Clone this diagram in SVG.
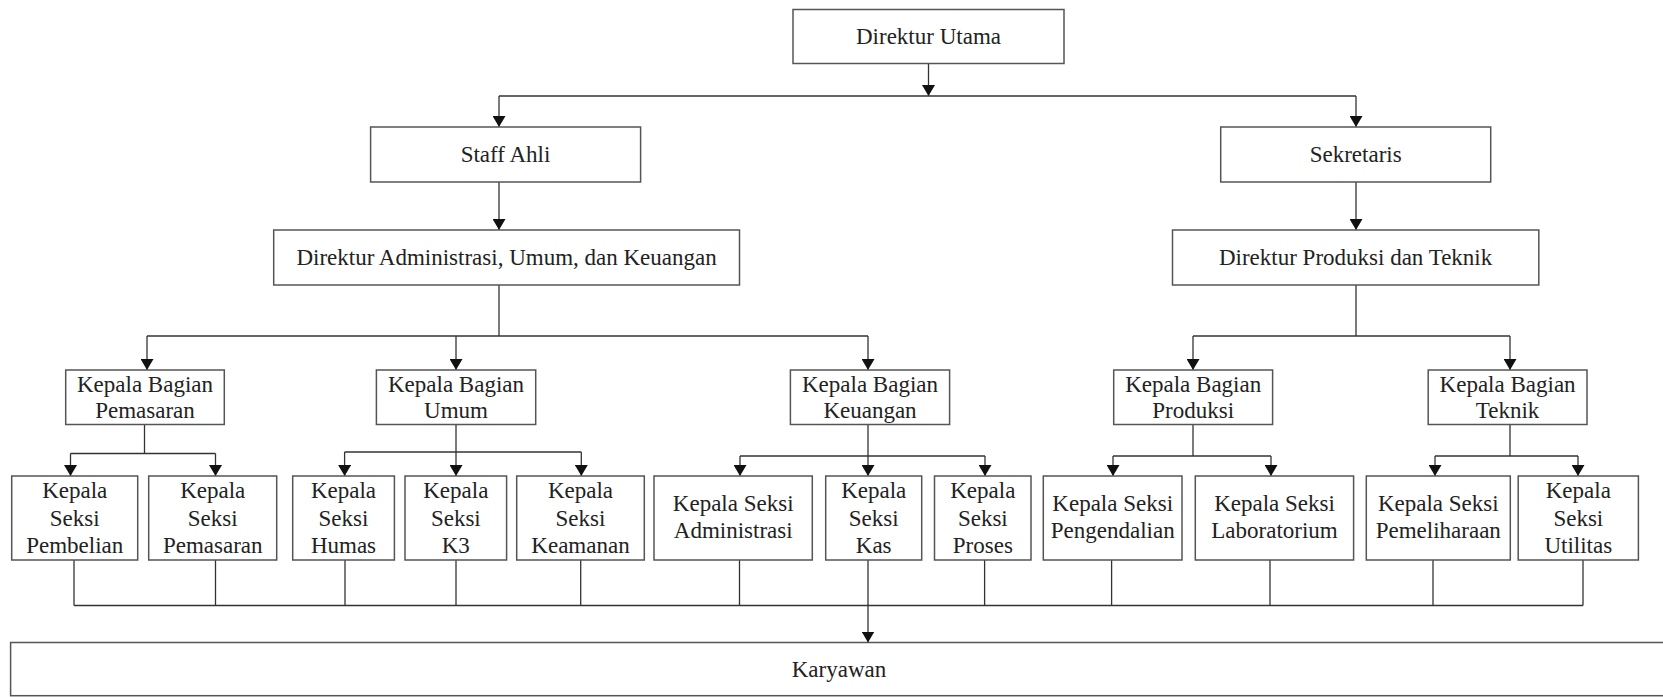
<svg xmlns="http://www.w3.org/2000/svg" width="1663" height="697" viewBox="0 0 1663 697">
<style>
.box{fill:#fff;stroke:#555;stroke-width:1.5}
.t{font-family:"Liberation Serif","Times New Roman",serif;font-size:23px;fill:#222;text-anchor:middle}
.ln{fill:none;stroke:#333;stroke-width:1.3}
.ar{fill:none;stroke:#333;stroke-width:1.3;marker-end:url(#ah)}
</style>
<defs>
<marker id="ah" viewBox="0 0 11 13" refX="11" refY="6.5" markerWidth="11" markerHeight="13" markerUnits="userSpaceOnUse" orient="auto">
<path d="M0,0 L11,6.5 L0,13 z" fill="#111"/>
</marker>
</defs>
<rect width="1663" height="697" fill="#fff"/>

<g id="connectors">
<line class="ar" x1="928.5" y1="63.5" x2="928.5" y2="96"/>
<polyline class="ln" points="499,96 1356,96"/>
<line class="ar" x1="499" y1="96" x2="499" y2="127"/>
<line class="ar" x1="1356" y1="96" x2="1356" y2="127"/>
<line class="ar" x1="499" y1="182" x2="499" y2="230"/>
<line class="ar" x1="1356" y1="182" x2="1356" y2="230"/>
<line class="ln" x1="499" y1="285" x2="499" y2="336"/>
<polyline class="ln" points="147,336 868,336"/>
<line class="ar" x1="147" y1="336" x2="147" y2="370"/>
<line class="ar" x1="456" y1="336" x2="456" y2="370"/>
<line class="ar" x1="868" y1="336" x2="868" y2="370"/>
<line class="ln" x1="1356" y1="285" x2="1356" y2="336"/>
<polyline class="ln" points="1193,336 1510,336"/>
<line class="ar" x1="1193" y1="336" x2="1193" y2="370"/>
<line class="ar" x1="1510" y1="336" x2="1510" y2="370"/>

<line class="ln" x1="144.5" y1="424.5" x2="144.5" y2="453.5"/>
<polyline class="ln" points="70.5,453.5 215.5,453.5"/>
<line class="ar" x1="70.5" y1="453.5" x2="70.5" y2="476"/>
<line class="ar" x1="215.5" y1="453.5" x2="215.5" y2="476"/>

<line class="ln" x1="456" y1="424.5" x2="456" y2="452"/>
<polyline class="ln" points="344.6,452 581.3,452"/>
<line class="ar" x1="344.6" y1="452" x2="344.6" y2="476"/>
<line class="ar" x1="456" y1="452" x2="456" y2="476"/>
<line class="ar" x1="581.3" y1="452" x2="581.3" y2="476"/>

<line class="ln" x1="868" y1="424.5" x2="868" y2="456"/>
<polyline class="ln" points="740,456 985,456"/>
<line class="ar" x1="740" y1="456" x2="740" y2="476"/>
<line class="ar" x1="868" y1="456" x2="868" y2="476"/>
<line class="ar" x1="985" y1="456" x2="985" y2="476"/>

<line class="ln" x1="1193" y1="424.5" x2="1193" y2="456"/>
<polyline class="ln" points="1113,456 1271,456"/>
<line class="ar" x1="1113" y1="456" x2="1113" y2="476"/>
<line class="ar" x1="1271" y1="456" x2="1271" y2="476"/>

<line class="ln" x1="1510" y1="424.5" x2="1510" y2="456"/>
<polyline class="ln" points="1435,456 1578,456"/>
<line class="ar" x1="1435" y1="456" x2="1435" y2="476"/>
<line class="ar" x1="1578" y1="456" x2="1578" y2="476"/>

<line class="ln" x1="74" y1="560" x2="74" y2="605.5"/>
<line class="ln" x1="215.5" y1="560" x2="215.5" y2="605.5"/>
<line class="ln" x1="345" y1="560" x2="345" y2="605.5"/>
<line class="ln" x1="456" y1="560" x2="456" y2="605.5"/>
<line class="ln" x1="580.7" y1="560" x2="580.7" y2="605.5"/>
<line class="ln" x1="739.5" y1="560" x2="739.5" y2="605.5"/>
<line class="ar" x1="868" y1="560" x2="868" y2="642.5"/>
<line class="ln" x1="984.6" y1="560" x2="984.6" y2="605.5"/>
<line class="ln" x1="1111.6" y1="560" x2="1111.6" y2="605.5"/>
<line class="ln" x1="1270" y1="560" x2="1270" y2="605.5"/>
<line class="ln" x1="1433" y1="560" x2="1433" y2="605.5"/>
<line class="ln" x1="1583" y1="560" x2="1583" y2="605.5"/>
<polyline class="ln" points="74,605.5 1583,605.5"/>
</g>

<g id="direktur-utama"><rect class="box" x="793" y="9.5" width="271" height="54"/><text class="t" x="928.5" y="44">Direktur Utama</text></g>
<g id="staff-ahli"><rect class="box" x="370.6" y="127" width="270" height="55"/><text class="t" x="505.5" y="162">Staff Ahli</text></g>
<g id="sekretaris"><rect class="box" x="1220.7" y="127" width="270" height="55"/><text class="t" x="1355.7" y="162">Sekretaris</text></g>
<g id="direktur-auk"><rect class="box" x="273.7" y="230" width="465.8" height="55"/><text class="t" x="506.6" y="265">Direktur Administrasi, Umum, dan Keuangan</text></g>
<g id="direktur-pt"><rect class="box" x="1172.5" y="230" width="366.3" height="55"/><text class="t" x="1355.6" y="265">Direktur Produksi dan Teknik</text></g>

<g id="kb-pemasaran"><rect class="box" x="65.7" y="370" width="158.6" height="54.5"/><text class="t" x="145" y="391.7">Kepala Bagian</text><text class="t" x="145" y="418.3">Pemasaran</text></g>
<g id="kb-umum"><rect class="box" x="376.4" y="370" width="159.3" height="54.5"/><text class="t" x="456" y="391.7">Kepala Bagian</text><text class="t" x="456" y="418.3">Umum</text></g>
<g id="kb-keuangan"><rect class="box" x="790.4" y="370" width="159.2" height="54.5"/><text class="t" x="870" y="391.7">Kepala Bagian</text><text class="t" x="870" y="418.3">Keuangan</text></g>
<g id="kb-produksi"><rect class="box" x="1113.7" y="370" width="158.9" height="54.5"/><text class="t" x="1193.2" y="391.7">Kepala Bagian</text><text class="t" x="1193.2" y="418.3">Produksi</text></g>
<g id="kb-teknik"><rect class="box" x="1428.2" y="370" width="158.8" height="54.5"/><text class="t" x="1507.6" y="391.7">Kepala Bagian</text><text class="t" x="1507.6" y="418.3">Teknik</text></g>

<g id="ks-pembelian"><rect class="box" x="11.7" y="476" width="126" height="84"/><text class="t" x="74.7" y="498.3">Kepala</text><text class="t" x="74.7" y="525.7">Seksi</text><text class="t" x="74.7" y="553.3">Pembelian</text></g>
<g id="ks-pemasaran"><rect class="box" x="148.7" y="476" width="128" height="84"/><text class="t" x="212.7" y="498.3">Kepala</text><text class="t" x="212.7" y="525.7">Seksi</text><text class="t" x="212.7" y="553.3">Pemasaran</text></g>
<g id="ks-humas"><rect class="box" x="292.7" y="476" width="101.7" height="84"/><text class="t" x="343.5" y="498.3">Kepala</text><text class="t" x="343.5" y="525.7">Seksi</text><text class="t" x="343.5" y="553.3">Humas</text></g>
<g id="ks-k3"><rect class="box" x="405" y="476" width="101.6" height="84"/><text class="t" x="455.8" y="498.3">Kepala</text><text class="t" x="455.8" y="525.7">Seksi</text><text class="t" x="455.8" y="553.3">K3</text></g>
<g id="ks-keamanan"><rect class="box" x="516.7" y="476" width="127.6" height="84"/><text class="t" x="580.5" y="498.3">Kepala</text><text class="t" x="580.5" y="525.7">Seksi</text><text class="t" x="580.5" y="553.3">Keamanan</text></g>
<g id="ks-administrasi"><rect class="box" x="654" y="476" width="158.3" height="84"/><text class="t" x="733.2" y="511">Kepala Seksi</text><text class="t" x="733.2" y="538.3">Administrasi</text></g>
<g id="ks-kas"><rect class="box" x="825.7" y="476" width="96" height="84"/><text class="t" x="873.7" y="498.3">Kepala</text><text class="t" x="873.7" y="525.7">Seksi</text><text class="t" x="873.7" y="553.3">Kas</text></g>
<g id="ks-proses"><rect class="box" x="934.5" y="476" width="96.5" height="84"/><text class="t" x="982.8" y="498.3">Kepala</text><text class="t" x="982.8" y="525.7">Seksi</text><text class="t" x="982.8" y="553.3">Proses</text></g>
<g id="ks-pengendalian"><rect class="box" x="1043.3" y="476" width="138.7" height="84"/><text class="t" x="1112.7" y="511">Kepala Seksi</text><text class="t" x="1112.7" y="538.3">Pengendalian</text></g>
<g id="ks-laboratorium"><rect class="box" x="1195.3" y="476" width="158.3" height="84"/><text class="t" x="1274.5" y="511">Kepala Seksi</text><text class="t" x="1274.5" y="538.3">Laboratorium</text></g>
<g id="ks-pemeliharaan"><rect class="box" x="1366.3" y="476" width="144" height="84"/><text class="t" x="1438.3" y="511">Kepala Seksi</text><text class="t" x="1438.3" y="538.3">Pemeliharaan</text></g>
<g id="ks-utilitas"><rect class="box" x="1518.2" y="476" width="120.2" height="84"/><text class="t" x="1578.3" y="498.3">Kepala</text><text class="t" x="1578.3" y="525.7">Seksi</text><text class="t" x="1578.3" y="553.3">Utilitas</text></g>

<g id="karyawan"><rect class="box" x="10.6" y="642.5" width="1660" height="53.2"/><text class="t" x="839" y="677">Karyawan</text></g>
</svg>
